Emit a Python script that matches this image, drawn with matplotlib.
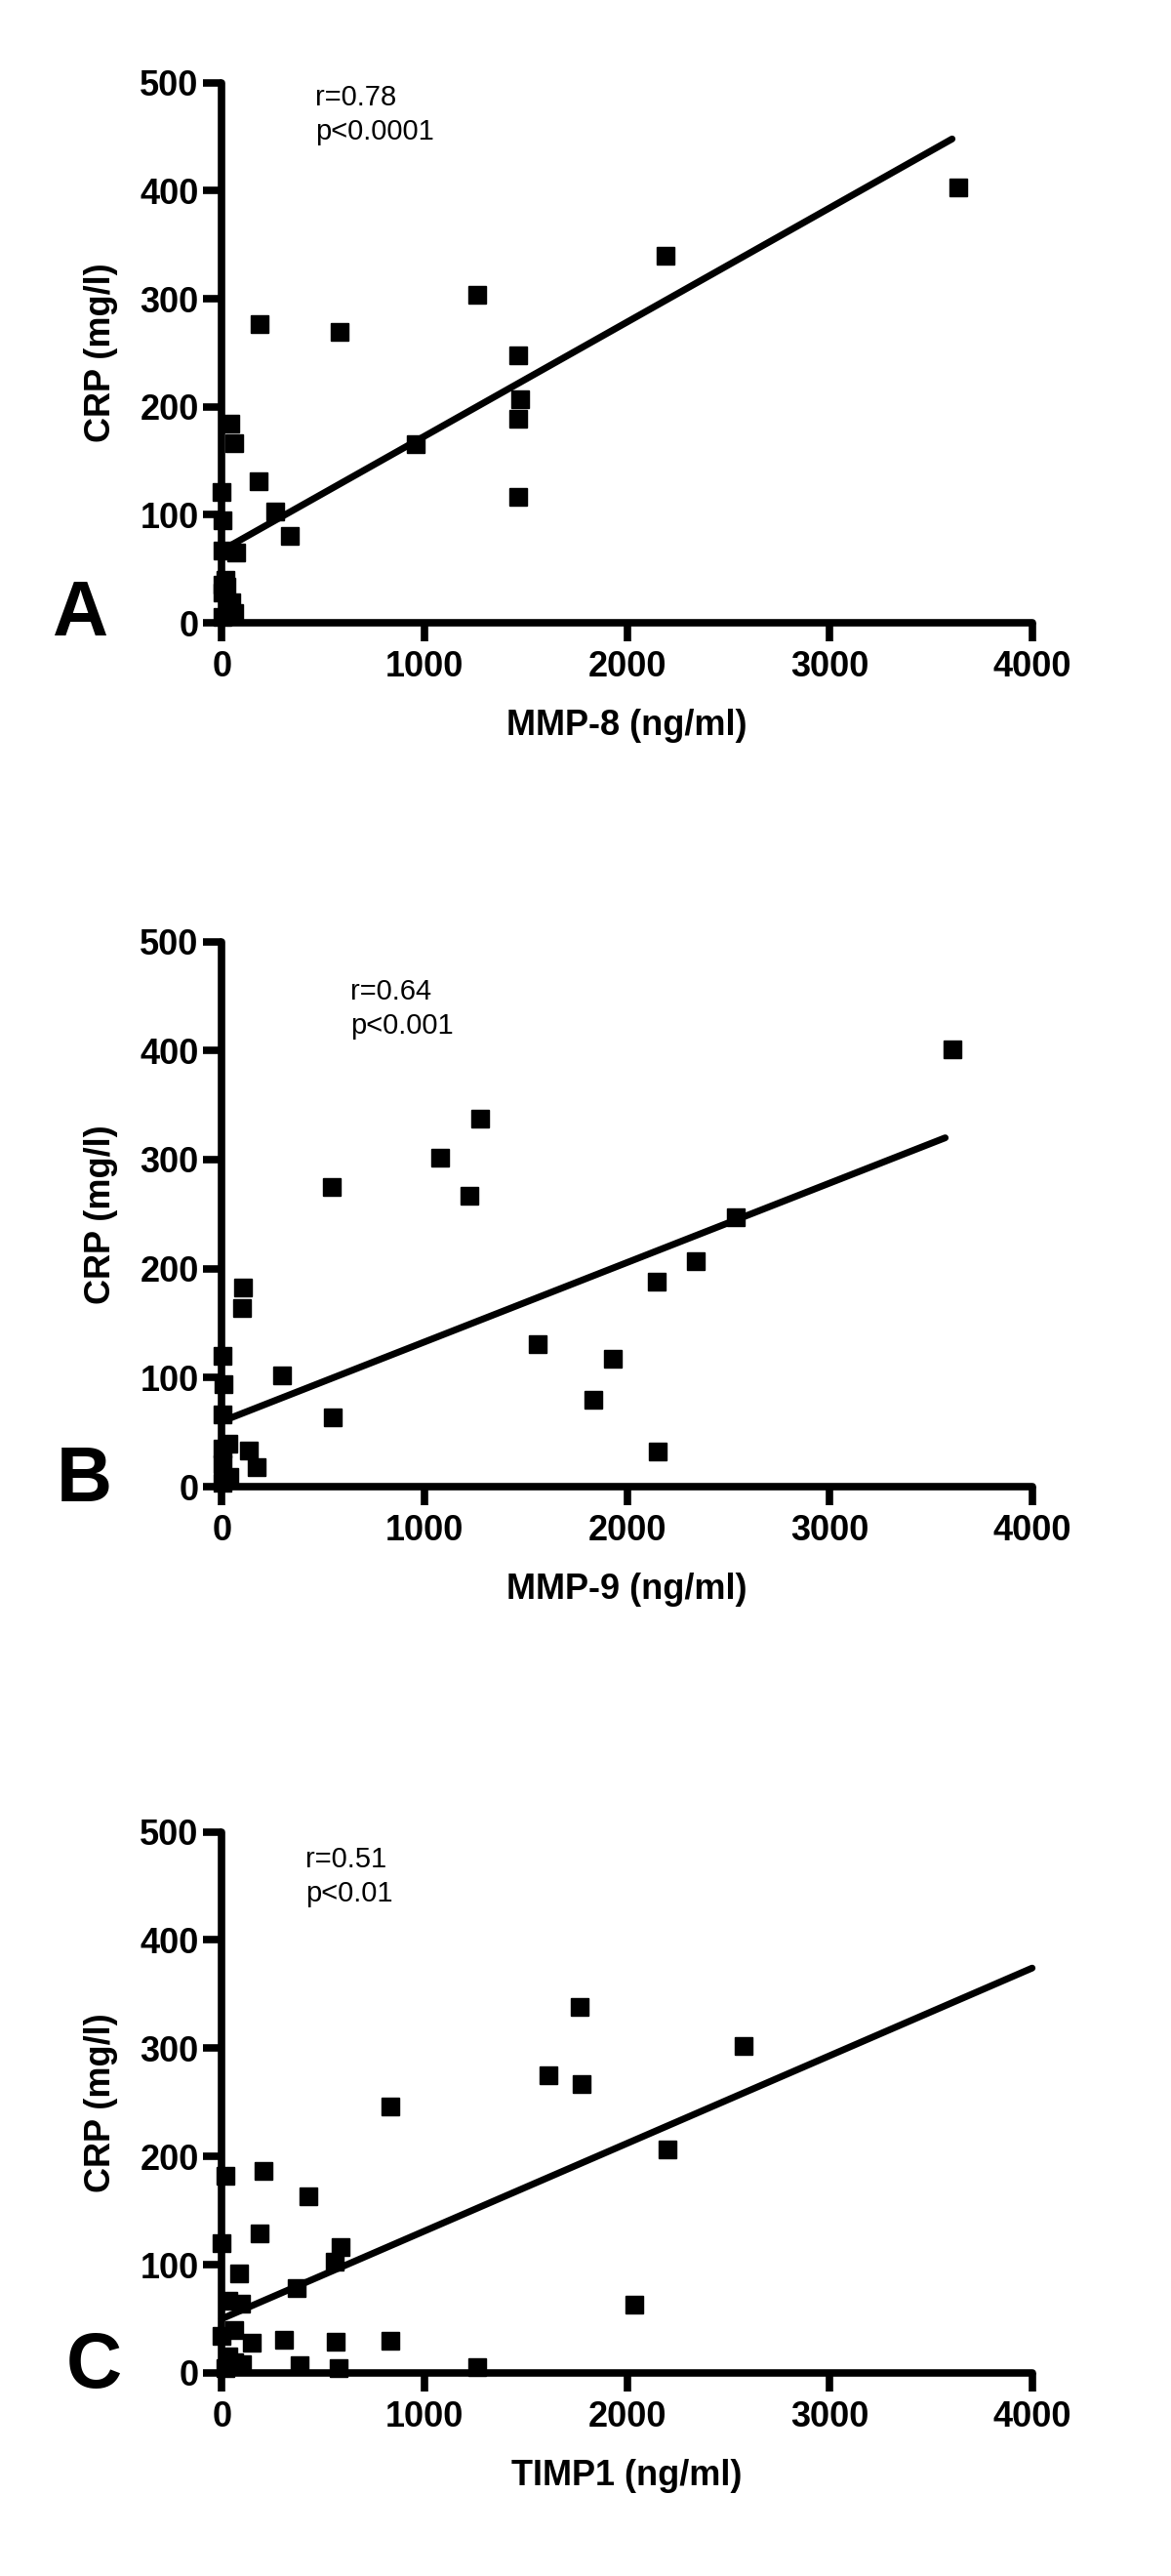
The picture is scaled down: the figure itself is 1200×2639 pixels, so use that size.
import matplotlib
matplotlib.use("Agg")
import matplotlib.pyplot as plt

plt.rcParams['font.family'] = ['Liberation Sans', 'DejaVu Sans']

# panel A: MMP-8 vs CRP
mmp8 = [3635, 2190, 1262, 188, 583, 1464, 1474, 1461, 1464, 955, 42, 61, 184,
        264, 337, 0, 5, 2, 72, 20, 25, 2, 4, 45, 61, 3]
crp_a = [403, 340, 304, 277, 269, 248, 207, 189, 117, 165, 184, 166, 131,
         103, 80, 121, 95, 67, 65, 40, 33, 35, 28, 19, 9, 5]
fit_a_x = [0, 3605]
fit_a_y = [67, 448]

# panel B: MMP-9 vs CRP
mmp9 = [3605, 2537, 2339, 2149, 1932, 1834, 2153, 1559, 1273, 1079, 1221, 543,
        549, 105, 102, 296, 5, 8, 5, 30, 5, 133, 172, 5, 35, 3]
crp_b = [401, 247, 207, 188, 117, 80, 32, 131, 338, 302, 267, 275,
         64, 183, 164, 102, 120, 94, 66, 40, 35, 33, 18, 21, 9, 4]
fit_b_x = [0, 3571]
fit_b_y = [60, 320]

# panel C: TIMP1 vs CRP
timp1 = [2574, 1764, 1610, 1775, 2199, 833, 207, 16, 429, 188, 0, 584, 558, 86,
         368, 2035, 30, 95, 63, 0, 150, 307, 560, 833, 30, 60, 100, 20, 383,
         576, 1262]
crp_c = [302, 338, 275, 267, 206, 246, 187, 182, 163, 129, 120, 116, 103, 92,
         78, 63, 67, 64, 40, 34, 28, 31, 29, 30, 15, 10, 8, 4, 7,
         4, 5]
fit_c_x = [0, 4000]
fit_c_y = [50, 374]

xticks = [0, 1000, 2000, 3000, 4000]
yticks = [0, 100, 200, 300, 400, 500]

panels = [
    ('A', mmp8, crp_a, fit_a_x, fit_a_y, 'MMP-8 (ng/ml)', 'r=0.78\np<0.0001', (461, 499)),
    ('B', mmp9, crp_b, fit_b_x, fit_b_y, 'MMP-9 (ng/ml)', 'r=0.64\np<0.001', (634, 466)),
    ('C', timp1, crp_c, fit_c_x, fit_c_y, 'TIMP1 (ng/ml)', 'r=0.51\np<0.01', (414, 487)),
]

W, H = 1200, 2639
# pixel rows of y=0 and y=500 in each panel
rows = [(638, 84.8), (1523.2, 964.5), (2430.9, 1876.5)]
letter_pos = [(53, 651), (58, 1538), (68, 2446)]

fig = plt.figure(figsize=(W / 100, H / 100), dpi=100)

for (letter, xs, ys, fx, fy, xlab, stats, tpos), (y0, y5), (lx, ly) in zip(panels, rows, letter_pos):
    ax = fig.add_axes([227.3 / W, 1 - y0 / H, 830.4 / W, (y0 - y5) / H])
    ax.plot(fx, fy, color='black', lw=5, solid_capstyle='round', clip_on=False, zorder=3)
    ax.plot(xs, ys, 's', color='black', ms=13, clip_on=False, zorder=4)
    ax.set_xlim(0, 4000)
    ax.set_ylim(0, 500)
    ax.set_xticks(xticks)
    ax.set_yticks(yticks)
    for s in ['top', 'right']:
        ax.spines[s].set_visible(False)
    for s in ['left', 'bottom']:
        ax.spines[s].set_linewidth(5.5)
        ax.spines[s].set_capstyle('round')
    ax.tick_params(direction='out', length=14, width=5.5, labelsize=26)
    ax.tick_params(axis='x', pad=6)
    ax.tick_params(axis='y', pad=3)
    for t in ax.get_xticklabels() + ax.get_yticklabels():
        t.set_fontweight('bold')
    ax.set_xlabel(xlab, fontsize=26, fontweight='bold', labelpad=18)
    ax.set_ylabel('CRP (mg/l)', fontsize=26, fontweight='bold', labelpad=16)
    ax.text(tpos[0], tpos[1], stats, fontsize=21, va='top', ha='left', linespacing=1.3)
    fig.text(lx / W, 1 - ly / H, letter, fontsize=57, fontweight='bold',
             ha='left', va='baseline')

fig.savefig('out.png', dpi=100)
